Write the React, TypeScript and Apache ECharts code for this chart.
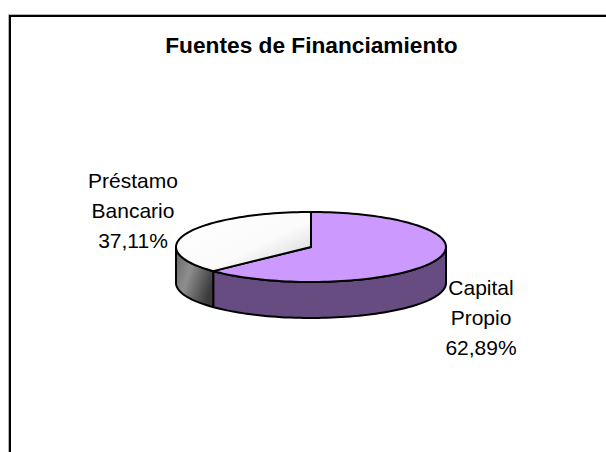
import React, { useEffect, useRef } from "react";
import * as echarts from "echarts";

const titleText = "Fuentes de Financiamiento";
const categories = ["Capital\nPropio", "Préstamo\nBancario"];
const seriesValues = [62.89, 37.11];
const percentLabels = ["62,89%", "37,11%"];

const CX = 311, CY = 247, RX = 135, RY = 35, DEPTH = 36;
const pt = (deg: number, dy = 0) => {
  const a = (deg * Math.PI) / 180;
  return [CX + RX * Math.sin(a), CY + dy - RY * Math.cos(a)];
};
const arc = (from: number, to: number, dy = 0) => {
  const out: number[][] = [];
  const n = Math.max(2, Math.ceil(Math.abs(to - from) / 2));
  for (let i = 0; i <= n; i++) out.push(pt(from + ((to - from) * i) / n, dy));
  return out;
};
const outline = { stroke: "#000", lineWidth: 2, lineJoin: "round" as const };

function renderPie(params: any, api: any) {
  if (params.dataIndex !== 0) return { type: "group", children: [] };
  const total = seriesValues.reduce((a, b) => a + b, 0);
  const split = (seriesValues[0] / total) * 360;
  const whiteFill = new echarts.graphic.LinearGradient(0, 0, 1, 0.9, [
    { offset: 0, color: "#ffffff" },
    { offset: 0.62, color: "#fbfbfb" },
    { offset: 1, color: "#d2d2d2" },
  ]);
  const greyFill = new echarts.graphic.LinearGradient(0, 0, 1, 0.55, [
    { offset: 0, color: "#666666" },
    { offset: 0.45, color: "#8e8e8e" },
    { offset: 1, color: "#3c3c3c" },
  ]);
  const poly = (points: number[][], fill: any) => ({
    type: "polygon",
    shape: { points },
    style: { fill, ...outline },
  });
  const side = (from: number, to: number, fill: any) =>
    poly([...arc(from, to, 0), ...arc(to, from, DEPTH)], fill);
  const label = (text: string, x: number, y: number) => ({
    type: "text",
    x,
    y,
    style: {
      text,
      fill: "#000",
      font: "21px 'Liberation Sans', Arial, sans-serif",
      lineHeight: 30,
      align: "center",
      verticalAlign: "top",
    },
  });
  return {
    type: "group",
    children: [
      side(90, split, "#664c80"),
      side(split, 270, greyFill),
      poly([[CX, CY], ...arc(0, split)], "#cc99ff"),
      poly([[CX, CY], ...arc(split, 360)], whiteFill),
      label(`${categories[1]}\n${percentLabels[1]}`, 133, 165),
      label(`${categories[0]}\n${percentLabels[0]}`, 481, 272),
    ],
  };
}

export default function App() {
  const ref = useRef<HTMLDivElement>(null);
  useEffect(() => {
    document.body.style.margin = "0";
    const chart = echarts.init(ref.current!, null, { renderer: "svg" });
    chart.setOption({
      animation: false,
      backgroundColor: "#ffffff",
      title: {
        text: titleText,
        left: 306.5,
        top: 28,
        textAlign: "center",
        textStyle: {
          fontFamily: "'Liberation Sans', Arial, sans-serif",
          fontSize: 22.7,
          fontWeight: "bold",
          color: "#000",
        },
      },
      graphic: [
        { type: "polyline", shape: { points: [[8.5, 452], [8.5, 14.5], [606, 14.5]] }, style: { stroke: "#b5b5b5", lineWidth: 1, fill: "none" } },
        { type: "polyline", shape: { points: [[10, 452], [10, 16], [606, 16]] }, style: { stroke: "#000", lineWidth: 2, fill: "none" } },
      ],
      series: [
        {
          type: "custom",
          coordinateSystem: "none",
          renderItem: renderPie,
          data: seriesValues.map((value, i) => ({ name: categories[i], value })),
          silent: true,
        },
      ],
    });
    return () => chart.dispose();
  }, []);
  return <div ref={ref} style={{ width: 606, height: 452 }} />;
}
